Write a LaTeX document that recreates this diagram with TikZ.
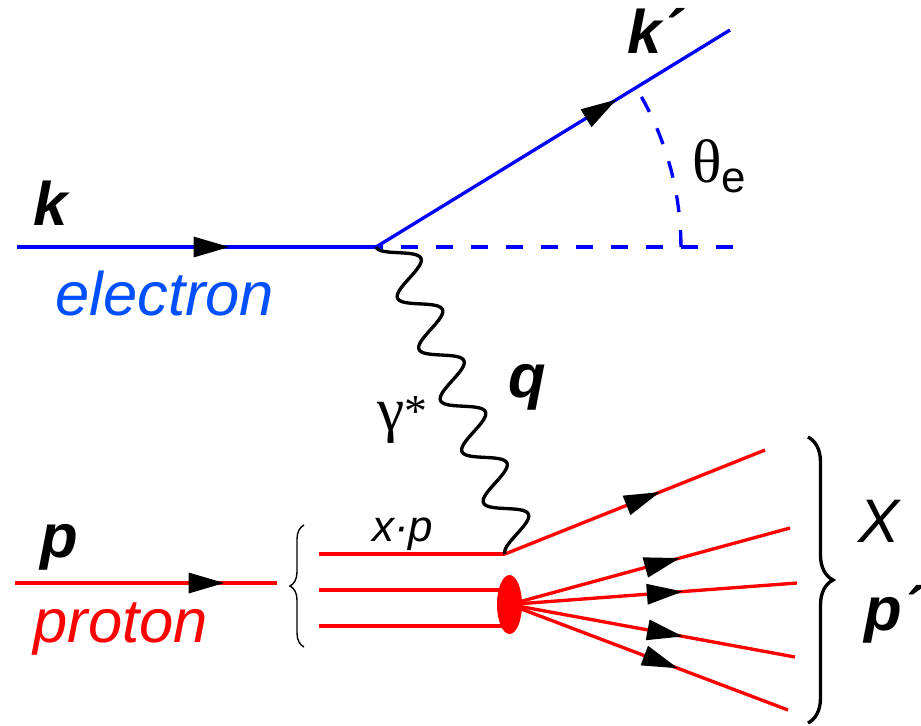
\documentclass[tikz,border=0pt]{standalone}
\usepackage{fontspec}
\setmainfont{Liberation Sans}
\newfontfamily\greekfont{Liberation Serif}
\usepackage{xcolor}
\usetikzlibrary{arrows.meta}
\usetikzlibrary{shapes.geometric}
\usetikzlibrary{decorations.markings,decorations.pathreplacing}
\definecolor{elblue}{RGB}{0,80,255}

\begin{document}
\begin{tikzpicture}[
  x=0.02cm, y=-0.02cm,
  eline/.style={blue, line width=1.9pt},
  pline/.style={red, line width=1.9pt},
  dline/.style={blue, line width=1.9pt, dash pattern=on 0.34cm off 0.36cm},
  photon/.style={black, line width=1.9pt},
  midarr/.style={postaction={decorate}, decoration={markings,
      mark=at position #1 with {\arrow{Triangle[color=black, length=0.72cm, width=0.4cm]}}}},
  big/.style={anchor=base west, inner sep=0pt, font=\fontsize{35}{42}\selectfont\itshape},
  bigb/.style={big, font=\fontsize{35}{42}\selectfont\bfseries\itshape},
  blob/.style={ellipse, fill=red, minimum width=0.5cm, minimum height=1.18cm, inner sep=0pt}
]
\useasboundingbox (0,0) rectangle (921,725);

%% Electron side
\coordinate (ein)  at (17,247);
\coordinate (vtx)  at (376,247);
\coordinate (eout) at (730,30);
\coordinate (dend) at (733,247);

\draw[dline, dash phase=0.2cm] (vtx)--(dend);
\draw[dline] (vtx) ++(6.1cm,0) arc[start angle=0, end angle=31.4, radius=6.1cm];
\draw[eline, midarr=0.592] (ein)--(vtx);
\draw[eline, midarr=0.68] (vtx)--(eout);

\node[bigb] (k)     at (33,225) {k};
\node[big, elblue] (elec) at (55,315) {electron};
\node[bigb] (kp)    at (627,53) {k´};
\node[big, font=\fontsize{35}{42}\selectfont\greekfont] (theta) at (692,182)
  {θ\raisebox{-5.7pt}{\normalfont\fontsize{25}{30}\selectfont e}};

%% Proton side
\coordinate (pin)  at (15,583);
\coordinate (pend) at (277,583);
\coordinate (q1a) at (319,554);
\coordinate (hit) at (505,554);
\coordinate (q2a) at (319,590);
\coordinate (q2b) at (505,590);
\coordinate (q3a) at (319,626);
\coordinate (q3b) at (505,626);
\coordinate (bc)  at (509.5,604.5);

\draw[pline, midarr=0.80] (pin)--(pend);
\draw[pline] (q1a)--(hit);
\draw[pline] (q2a)--(q2b);
\draw[pline] (q3a)--(q3b);

\node[bigb] (p)    at (40,557) {p};
\node[big, red] (prot) at (33,642) {proton};
\node[big, font=\fontsize{25}{30}\selectfont\itshape] (xp) at (372,541) {x·p};

%% Final state
\coordinate (x1) at (765,450);
\coordinate (x2) at (790,528);
\coordinate (x3) at (797,583);
\coordinate (x4) at (795,657);
\coordinate (x5) at (788,710);

\draw[pline, midarr=0.596] (hit)--(x1);
\draw[pline, midarr=0.608] (bc)--(x2);
\draw[pline, midarr=0.603] (bc)--(x3);
\draw[pline, midarr=0.608] (bc)--(x4);
\draw[pline, midarr=0.605] (bc)--(x5);
\node[blob] (blob) at (bc) {};

%% Virtual photon, vtx -> hit
\draw[photon, shift={(vtx)}] plot[domain=0:1, samples=241, smooth, variable=\t]
  ({129*\t+17.1*(1-cos(2160*\t))},{307*\t-7.1*(1-cos(2160*\t))});
\node[big, font=\fontsize{35}{42}\selectfont\greekfont] (gam) at (377,430)
  {γ\raisebox{2pt}{\fontsize{26}{30}\selectfont*}};
\node[bigb] (q) at (508,397) {q};

%% Braces
\draw[decorate, decoration={brace, amplitude=0.28cm}, line width=0.8pt] (304,647)--(304,525);
\draw[decorate, decoration={brace, amplitude=0.5cm}, line width=1.9pt] (808,437)--(808,723);
\node[big] (X) at (858,542) {X};
\node[bigb] (pp) at (864,630) {p´};

\end{tikzpicture}
\end{document}
